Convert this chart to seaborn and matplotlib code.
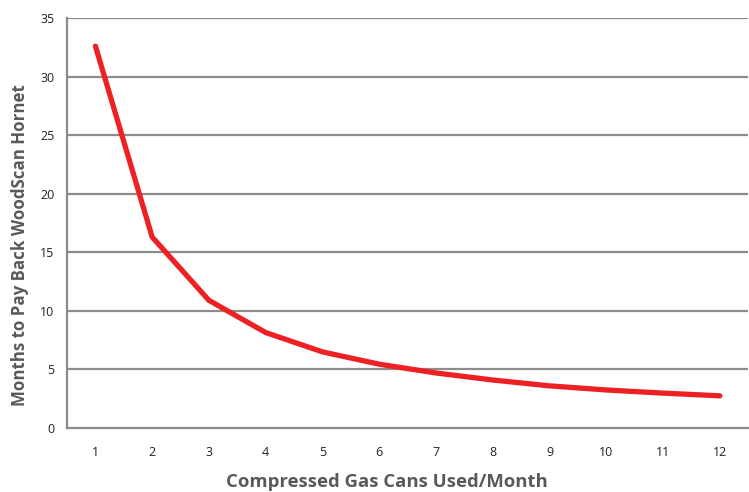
import matplotlib
matplotlib.use("Agg")
import matplotlib.pyplot as plt
import seaborn as sns
import pandas as pd

cans = [1, 2, 3, 4, 5, 6, 7, 8, 9, 10, 11, 12]
months = [32.6, 16.3, 10.9, 8.15, 6.5, 5.45, 4.7, 4.1, 3.6, 3.25, 2.98, 2.75]
y_ticks = [0, 5, 10, 15, 20, 25, 30, 35]

sns.set_theme(style="white")
plt.rcParams['font.family'] = ['Open Sans', 'DejaVu Sans']

df = pd.DataFrame({"cans": cans, "months": months})

fig = plt.figure(figsize=(7.49, 4.92), dpi=100)
ax = fig.add_axes([0.0895, 0.130, 0.9095, 0.8334])

grid_c = "#8c8c8c"
for v in y_ticks[1:]:
    ax.axhline(v, color=grid_c, lw=1.6, zorder=1)

sns.lineplot(data=df, x="cans", y="months", ax=ax, color="#ED2024",
             linewidth=3.8, solid_capstyle="round", solid_joinstyle="round", zorder=3)

ax.set_xlim(0.5, 12.5)
ax.set_ylim(0, 35)
ax.set_yticks(y_ticks)
ax.set_yticklabels([str(v) for v in y_ticks], fontsize=9, color="#222222")

bounds = [c - 0.5 for c in cans]
ax.set_xticks(bounds)
ax.set_xticklabels([""] * len(bounds))
ax.set_xticks(cans, minor=True)
ax.set_xticklabels([str(c) for c in cans], minor=True, fontsize=9, color="#222222")
ax.tick_params(axis="x", which="major", length=5, width=1.6, color=grid_c, direction="out")
ax.tick_params(axis="x", which="minor", length=0, pad=13)
ax.tick_params(axis="y", length=5, width=1.6, color=grid_c, direction="out", pad=4)

for s in ["top", "right"]:
    ax.spines[s].set_visible(False)
for s in ["left", "bottom"]:
    ax.spines[s].set_color(grid_c)
    ax.spines[s].set_linewidth(1.6)

ax.set_xlabel("Compressed Gas Cans Used/Month", fontsize=13.3, fontweight="bold",
              color="#595959", va="center")
ax.set_ylabel("Months to Pay Back WoodScan Hornet", fontsize=12.2, fontweight="bold",
              color="#595959", va="center")
ax.xaxis.set_label_coords(0.47, -0.132)
ax.yaxis.set_label_coords(-0.069, 0.446)

fig.savefig("out.png", dpi=100)
